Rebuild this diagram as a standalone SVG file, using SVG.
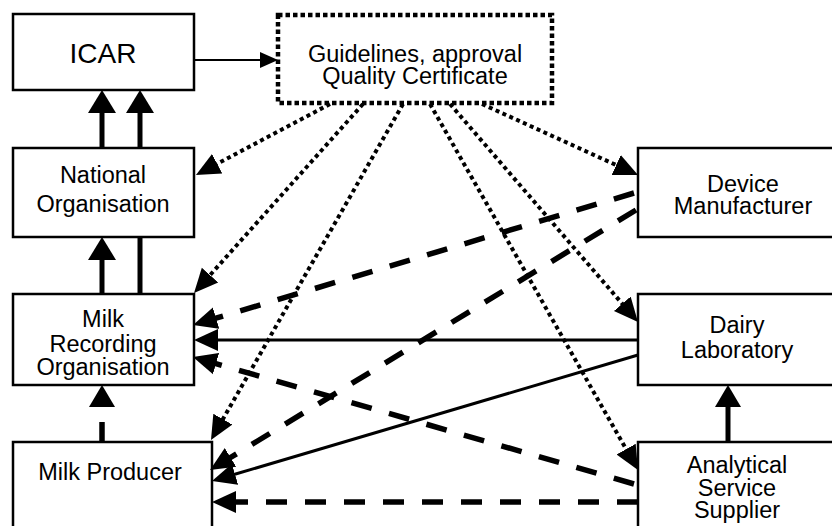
<svg xmlns="http://www.w3.org/2000/svg" width="832" height="526" viewBox="0 0 832 526">
<style>
.box{fill:#fff;stroke:#000;stroke-width:2.5}
.gbox{fill:#fff;stroke:#000;stroke-width:4.5;stroke-dasharray:4.5 3}
.t{font-family:"Liberation Sans",Arial,sans-serif;font-size:23.5px;fill:#000;text-anchor:middle}
.dot{fill:none;stroke:#000;stroke-width:4;stroke-dasharray:4 3.5}
.dash{fill:none;stroke:#000;stroke-width:5.5;stroke-dasharray:21 18}
.sol{fill:none;stroke:#000;stroke-width:3}
.thick{fill:none;stroke:#000;stroke-width:5}
.thin{fill:none;stroke:#000;stroke-width:2}
</style>
<defs>
<marker id="mThin" markerUnits="userSpaceOnUse" viewBox="0 -10 20 20" refX="2" refY="0" markerWidth="20" markerHeight="20" orient="auto"><path d="M0,-8 L18,0 L0,8 Z" fill="#000"/></marker>
<marker id="mBig" markerUnits="userSpaceOnUse" viewBox="0 -15 25 30" refX="2" refY="0" markerWidth="25" markerHeight="30" orient="auto"><path d="M0,-14 L23,0 L0,14 Z" fill="#000"/></marker>
<marker id="mMed" markerUnits="userSpaceOnUse" viewBox="0 -12 26 24" refX="2" refY="0" markerWidth="26" markerHeight="24" orient="auto"><path d="M0,-11 L24,0 L0,11 Z" fill="#000"/></marker>
<marker id="mV" markerUnits="userSpaceOnUse" viewBox="0 -14 24 28" refX="2" refY="0" markerWidth="24" markerHeight="28" orient="auto"><path d="M0,-13 L22,0 L0,13 Z" fill="#000"/></marker>
</defs>

<g id="ICAR"><rect class="box" x="13" y="14" width="181" height="76"/><text class="t" x="103" y="63" style="font-size:28px">ICAR</text></g>
<g id="Guidelines"><rect class="gbox" x="278" y="15" width="274" height="88"/><text class="t" x="415" y="62">Guidelines, approval</text><text class="t" x="415" y="84">Quality Certificate</text></g>
<g id="NationalOrganisation"><rect class="box" x="13" y="148" width="181" height="89"/><text class="t" x="103" y="183">National</text><text class="t" x="103" y="212">Organisation</text></g>
<g id="MilkRecordingOrganisation"><rect class="box" x="13" y="294" width="181" height="91"/><text class="t" x="103" y="327">Milk</text><text class="t" x="103" y="352">Recording</text><text class="t" x="103" y="375">Organisation</text></g>
<g id="MilkProducer"><rect class="box" x="13" y="442" width="199" height="100"/><text class="t" x="110" y="480">Milk Producer</text></g>
<g id="DeviceManufacturer"><rect class="box" x="638" y="148" width="220" height="89"/><text class="t" x="743" y="192">Device</text><text class="t" x="743" y="214">Manufacturer</text></g>
<g id="DairyLaboratory"><rect class="box" x="638" y="294" width="220" height="91"/><text class="t" x="737" y="333">Dairy</text><text class="t" x="737" y="358">Laboratory</text></g>
<g id="AnalyticalServiceSupplier"><rect class="box" x="638" y="442" width="220" height="100"/><text class="t" x="737" y="473">Analytical</text><text class="t" x="737" y="496">Service</text><text class="t" x="737" y="518">Supplier</text></g>

<g id="connectors">
<path class="thin" d="M193,60 L262,60" marker-end="url(#mThin)"/>
<path class="thick" d="M102,148 L102,111" marker-end="url(#mBig)"/>
<path class="thick" d="M140,148 L140,111" marker-end="url(#mBig)"/>
<path class="thick" d="M102,294 L102,258" marker-end="url(#mBig)"/>
<path class="thick" d="M140,294 L140,237"/>
<path class="dash" d="M102,443 L102,405" stroke-dasharray="20 20" marker-end="url(#mV)"/>
<path class="thick" d="M728,442 L728,405" marker-end="url(#mV)"/>
<path class="dot" d="M330,104 L215.4,164.7" marker-end="url(#mMed)"/>
<path class="dot" d="M363,104 L208.7,276.6" marker-end="url(#mMed)"/>
<path class="dot" d="M403,104 L221.9,420.9" marker-end="url(#mMed)"/>
<path class="dot" d="M450,104 L623.6,305.3" marker-end="url(#mMed)"/>
<path class="dot" d="M430,104 L627.1,450.9" marker-end="url(#mMed)"/>
<path class="dot" d="M482,104 L618,165.9" marker-end="url(#mMed)"/>
<path class="dash" d="M634,193 L214.1,318.7" marker-end="url(#mMed)"/>
<path class="dash" d="M636,210 L228.8,458.5" marker-end="url(#mMed)"/>
<path class="dash" d="M634,484 L214.1,363.1" marker-end="url(#mMed)"/>
<path class="dash" d="M638,502 L234,502" marker-end="url(#mMed)"/>
<path class="sol" d="M638,340 L216,340" marker-end="url(#mMed)"/>
<path class="sol" d="M638,355 L233.1,474.8" marker-end="url(#mMed)"/>
</g>
</svg>
